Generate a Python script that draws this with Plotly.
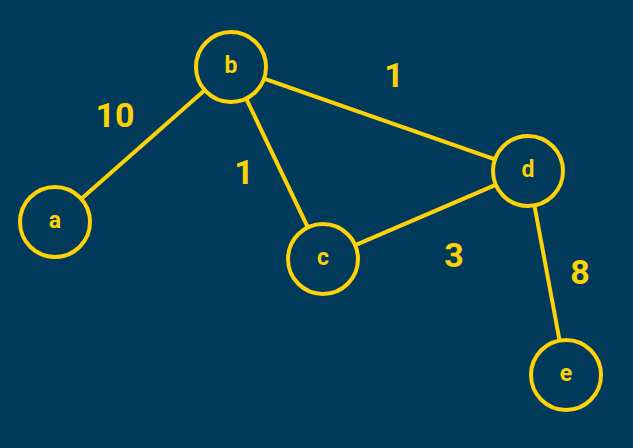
import plotly.graph_objects as go

bg = "#013a5b"
yellow = "#fdd20a"

nodes = ["a", "b", "c", "d", "e"]
node_x = [55, 231, 323, 528, 566]
node_y = [222, 67, 259, 171, 375]

edges = [("a", "b"), ("b", "d"), ("b", "c"), ("c", "d"), ("d", "e")]
weights = ["10", "1", "1", "3", "8"]
label_x = [115, 394, 244, 454, 580]
label_y = [118, 78, 175, 258, 275]

pos = {n: (x, y) for n, x, y in zip(nodes, node_x, node_y)}

fig = go.Figure()
ex, ey = [], []
for u, v in edges:
    ex += [pos[u][0], pos[v][0], None]
    ey += [pos[u][1], pos[v][1], None]
fig.add_trace(go.Scatter(x=ex, y=ey, mode="lines",
                         line=dict(color=yellow, width=4), hoverinfo="skip"))
fig.add_trace(go.Scatter(
    x=node_x, y=node_y, mode="markers+text", text=nodes,
    marker=dict(size=70, color=bg, line=dict(color=yellow, width=4)),
    textfont=dict(family="Roboto", size=23, color=yellow, weight="bold"),
    textposition="middle center",
))
fig.add_trace(go.Scatter(
    x=label_x, y=label_y, mode="text", text=weights,
    textfont=dict(family="Roboto", size=34, color=yellow, weight="bold"),
))

fig.update_layout(
    width=633, height=448,
    paper_bgcolor=bg, plot_bgcolor=bg,
    showlegend=False,
    margin=dict(l=0, r=0, t=0, b=0),
    xaxis=dict(range=[0, 633], visible=False, fixedrange=True),
    yaxis=dict(range=[448, 0], visible=False, fixedrange=True),
)
fig.write_html("out.html", config={"displayModeBar": False},
               post_script="document.body.style.margin='0';")
